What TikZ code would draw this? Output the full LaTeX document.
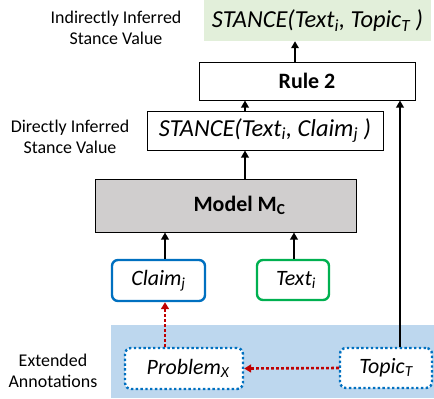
\documentclass[tikz,border=0pt]{standalone}
\usepackage{fontspec}
\setmainfont{Carlito}
\usetikzlibrary{arrows.meta}
\definecolor{resgreen}{HTML}{E2EFDA}
\definecolor{annblue}{HTML}{BDD7EE}
\definecolor{modelgray}{HTML}{D0CECE}
\definecolor{claimblue}{HTML}{0070C0}
\definecolor{textgreen}{HTML}{00B050}
\definecolor{linkred}{HTML}{C00000}
\newcommand\lowidx[1]{\textsubscript{#1}}
\tikzset{
  box/.style={draw=black, line width=1bp, inner sep=0pt},
  sidelabel/.style={align=center, font=\fontsize{18}{21}\selectfont},
  formula/.style={font=\fontsize{24.5}{27}\selectfont\itshape},
  boldtext/.style={font=\fontsize{22}{26}\selectfont\bfseries},
  inputbox/.style={rounded corners=6bp, line width=2.4bp, inner sep=0pt, font=\fontsize{22}{26}\selectfont\itshape},
  annbox/.style={draw=claimblue, dash pattern=on 2.4bp off 2.4bp, rounded corners=6bp, line width=2.4bp, fill=white, inner sep=0pt, font=\fontsize{22}{26}\selectfont\itshape},
  arr/.style={line width=2.4bp, -{Triangle[length=7bp,width=7.5bp]}},
  redarr/.style={draw=linkred, line width=2.6bp, dash pattern=on 2.6bp off 2.4bp, -{Triangle[length=7bp,width=8bp]}, color=linkred},
}
\begin{document}
\begin{tikzpicture}[x=1bp, y=-1bp]
  \useasboundingbox (0,0) rectangle (434,398);

  % annotation band
  \fill[annblue] (111,325) rectangle (434,398);

  % boxes
  \node[fill=resgreen, inner sep=0pt, minimum width=227bp, minimum height=41bp, formula] (top) at (317.5,20.5)
    {STANCE(Text\lowidx{i}, Topic\lowidx{T}\ )};
  \node[box, minimum width=216bp, minimum height=38bp, boldtext] (rule) at (307,81) {Rule 2};
  \node[box, minimum width=236bp, minimum height=39bp, formula] (stance) at (265,130.5)
    {STANCE(Text\lowidx{i}, Claim\lowidx{j}\ )};
  \node[box, fill=modelgray, minimum width=261bp, minimum height=53bp, boldtext] (model) at (225.5,205.5)
    {\hspace*{28bp}Model M\lowidx{C}};
  \node[inputbox, draw=claimblue, minimum width=93bp, minimum height=41bp] (claim) at (158.5,280.5) {Claim\lowidx{j}};
  \node[inputbox, draw=textgreen, minimum width=72bp, minimum height=40bp] (text) at (293,280) {\hspace*{6bp}Text\lowidx{i}};
  \node[annbox, minimum width=118bp, minimum height=41bp] (problem) at (184,368.5) {\hspace*{8bp}Problem\lowidx{X}};
  \node[annbox, minimum width=92bp, minimum height=40bp] (topic) at (386,368) {Topic\lowidx{T}};

  % side labels
  \node[sidelabel] (lblind) at (116,28) {Indirectly Inferred\\Stance Value};
  \node[sidelabel] (lbldir) at (70,137) {Directly Inferred\\Stance Value};
  \node[sidelabel] (lblext) at (53,371) {Extended\\Annotations};

  % data flow
  \draw[arr] ([xshift=-12bp]rule.north) -- ([xshift=-12bp]rule.north |- top.south);
  \draw[arr] ([xshift=-20bp]stance.north) -- ([xshift=-20bp]stance.north |- rule.south);
  \draw[arr] ([xshift=19.5bp]model.north) -- ([xshift=19.5bp]model.north |- stance.south);
  \draw[arr] ([xshift=6.5bp]claim.north) -- ([xshift=6.5bp]claim.north |- model.south);
  \draw[arr] ([xshift=1bp]text.north) -- ([xshift=1bp]text.north |- model.south);
  \draw[arr] ([xshift=14bp]topic.north) -- ([xshift=14bp]topic.north |- rule.south);

  % annotation links
  \draw[redarr] ([xshift=-19bp]problem.north) -- ([xshift=-19bp]problem.north |- claim.south);
  \draw[redarr] (topic.west) -- (problem.east);
\end{tikzpicture}
\end{document}
